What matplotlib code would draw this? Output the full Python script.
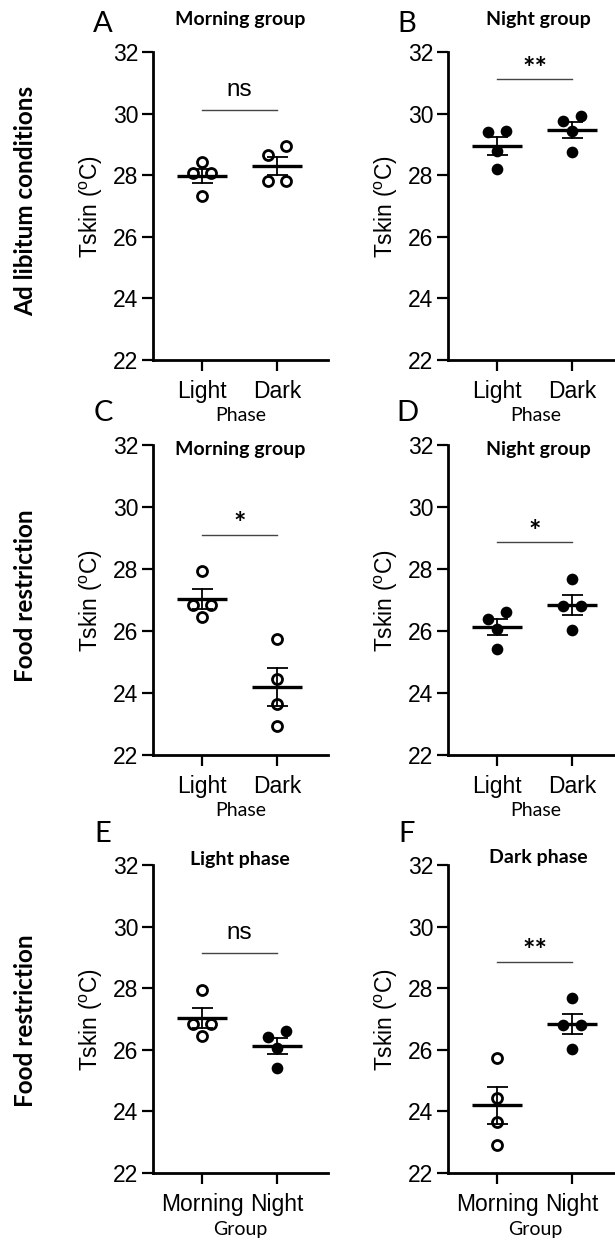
import numpy as np
import matplotlib
matplotlib.use("Agg")
import matplotlib.pyplot as plt

plt.rcParams['font.family'] = ['Liberation Sans', 'DejaVu Sans']
plt.rcParams['mathtext.fontset'] = 'custom'
plt.rcParams['mathtext.rm'] = 'Liberation Sans'

# ---------------- data ----------------
phase_labels = ["Light", "Dark"]
group_labels = ["Morning", "Night"]
y_ticks = [22, 24, 26, 28, 30, 32]

morning_adlib_light = [28.42, 28.08, 28.08, 27.31]
morning_adlib_dark = [28.65, 28.95, 27.80, 27.80]
night_adlib_light = [29.40, 29.45, 28.77, 28.20]
night_adlib_dark = [29.75, 29.93, 29.42, 28.75]
morning_fr_light = [27.95, 26.85, 26.85, 26.45]
morning_fr_dark = [25.75, 24.45, 23.65, 22.92]
night_fr_light = [26.40, 26.62, 26.07, 25.42]
night_fr_dark = [27.68, 26.82, 26.82, 26.03]

panel_letters = ["A", "B", "C", "D", "E", "F"]
panel_titles = ["Morning group", "Night group", "Morning group", "Night group",
                "Light phase", "Dark phase"]
significance = ["ns", "**", "*", "*", "ns", "**"]
sig_levels = [30.13, 31.12, 29.1, 28.86, 29.14, 28.86]
row_labels = ["Ad libitum conditions", "Food restriction", "Food restriction"]
y_label = "Tskin ($^{\\mathrm{o}}$C)"

W, H = 615, 1240
fig = plt.figure(figsize=(W / 100, H / 100), dpi=100)
CAL = ['Lato', 'DejaVu Sans']


def px_axes(left, top, right, bottom):
    return fig.add_axes([left / W, 1 - bottom / H, (right - left) / W, (bottom - top) / H])


def swarm_offsets(vals, thresh=0.5, spread=0.125):
    vals = np.asarray(vals, float)
    n = len(vals)
    partner = [-1] * n
    pairs = sorted(((abs(vals[i] - vals[j]), i, j) for i in range(n) for j in range(i + 1, n)))
    for d, i, j in pairs:
        if d < thresh and partner[i] < 0 and partner[j] < 0:
            partner[i], partner[j] = j, i
    off = np.zeros(n)
    for i in range(n):
        j = partner[i]
        if j >= 0:
            lower = i if (vals[i] < vals[j] or (vals[i] == vals[j] and i < j)) else j
            off[i] = -spread if i == lower else spread
    return off


def draw_panel(ax, groups, fills, xlabels, xname, sig, sig_y, xlabelpad):
    for k, (vals, filled) in enumerate(zip(groups, fills)):
        vals = np.asarray(vals)
        xo = k + swarm_offsets(vals)
        if filled:
            ax.plot(xo, vals, 'o', ms=7.2, mfc='black', mec='black', mew=1.2, zorder=3)
        else:
            ax.plot(xo, vals, 'o', ms=7.2, mfc='none', mec='black', mew=2.0, zorder=3)
        m = vals.mean()
        sem = vals.std(ddof=1) / np.sqrt(len(vals))
        ax.plot([k - 0.33, k + 0.33], [m, m], color='black', lw=2.4, zorder=4,
                solid_capstyle='butt')
        ax.plot([k, k], [m - sem, m + sem], color='black', lw=1.3, zorder=4)
        for e in (m - sem, m + sem):
            ax.plot([k - 0.14, k + 0.14], [e, e], color='black', lw=1.3, zorder=4,
                    solid_capstyle='butt')
    ax.plot([0, 1], [sig_y, sig_y], color='#444444', lw=1.0)
    if sig == 'ns':
        ax.text(0.5, sig_y + 0.64, sig, ha='center', va='center', fontsize=17.5)
    else:
        ax.text(0.5, sig_y + 0.08, sig, ha='center', va='baseline', fontsize=21,
                fontweight='bold', family=CAL)
    ax.set_xlim(-0.655, 1.68)
    ax.set_ylim(22, 32)
    ax.set_yticks(y_ticks)
    ax.set_xticks([0, 1])
    ax.set_xticklabels(xlabels, fontsize=16.5)
    ax.tick_params(axis='y', labelsize=16.5, length=8, width=1.6, pad=2.5)
    ax.tick_params(axis='x', length=8, width=1.6, pad=6.5)
    for s in ('top', 'right'):
        ax.spines[s].set_visible(False)
    for s in ('left', 'bottom'):
        ax.spines[s].set_linewidth(2.0)
    ax.set_ylabel(y_label, fontsize=16.5, labelpad=6)
    ax.set_xlabel(xname, fontsize=14, family=CAL, labelpad=xlabelpad)


rows_tb = [(52, 360), (445, 755), (865, 1173)]
cols_lr = [(153, 328), (448, 623)]

panel_groups = [
    (morning_adlib_light, morning_adlib_dark),
    (night_adlib_light, night_adlib_dark),
    (morning_fr_light, morning_fr_dark),
    (night_fr_light, night_fr_dark),
    (morning_fr_light, night_fr_light),
    (morning_fr_dark, night_fr_dark),
]
panel_fills = [(False, False), (True, True), (False, False), (True, True),
               (False, True), (False, True)]
title_y = [20, 20, 449, 449, 860, 858]
letter_y = [24, 24, 413, 413, 834, 834]

for i in range(6):
    r, c = divmod(i, 2)
    top, bottom = rows_tb[r]
    left, right = cols_lr[c]
    ax = px_axes(left, top, right, bottom)
    xl = group_labels if r == 2 else phase_labels
    xn = "Group" if r == 2 else "Phase"
    draw_panel(ax, panel_groups[i], panel_fills[i], xl, xn, significance[i], sig_levels[i],
               3.5 if r == 2 else 2.5)
    cx = 240 if c == 0 else 538
    fig.text(cx / W, 1 - title_y[i] / H, panel_titles[i], ha='center', va='center',
             fontsize=14, fontweight='bold', family=CAL)
    lx = 103 if c == 0 else 407
    fig.text(lx / W, 1 - letter_y[i] / H, panel_letters[i], ha='center', va='center',
             fontsize=21, family=CAL)

row_label_y = [201, 596, 1021]
for lab, yy in zip(row_labels, row_label_y):
    fig.text(26 / W, 1 - yy / H, lab, rotation=90, ha='center', va='center',
             fontsize=17.5, fontweight='bold', family=CAL)

fig.savefig("out.png", dpi=100)
